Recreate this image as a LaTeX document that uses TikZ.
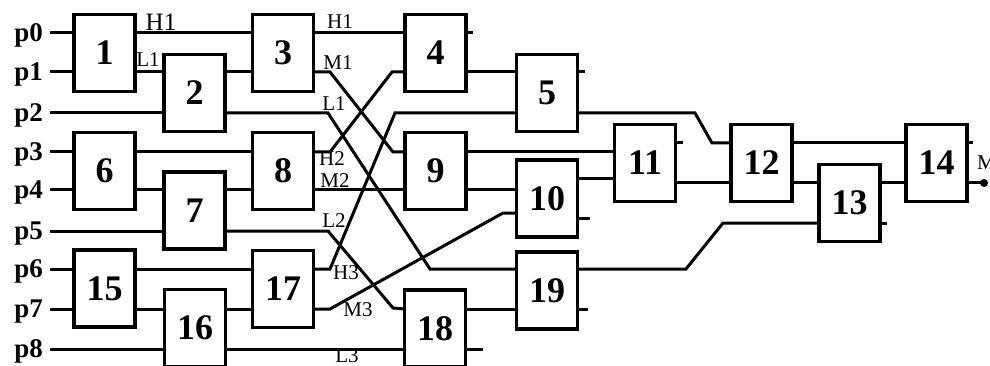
\documentclass[tikz,border=0pt]{standalone}
\usepackage{fontspec}
\setmainfont{Liberation Serif}
\begin{document}
\begin{tikzpicture}[
    x=1pt, y=-1pt,
    gate/.style={draw, line width=3.5pt, minimum width=61pt, minimum height=77pt,
        inner sep=0pt, outer sep=0pt, font=\fontsize{36}{36}\selectfont\bfseries},
    pin/.style={anchor=east, inner xsep=7pt, inner ysep=0pt, text depth=0pt,
        font=\fontsize{27}{27}\selectfont\bfseries},
    wire/.style={draw, line width=3pt},
    tag/.style={inner sep=0pt, font=\fontsize{21}{21}\selectfont}
]
\useasboundingbox (0,0) rectangle (990,366);

% inputs
\node [pin] (p0) at (50,33) {p0};
\node [pin] (p1) at (50,72) {p1};
\node [pin] (p2) at (50,113) {p2};
\node [pin] (p3) at (50,152) {p3};
\node [pin] (p4) at (50,190) {p4};
\node [pin] (p5) at (50,231) {p5};
\node [pin] (p6) at (50,269) {p6};
\node [pin] (p7) at (50,309) {p7};
\node [pin] (p8) at (50,349) {p8};

% comparators
\node [gate] (b1) at (104.5,53) {1};
\node [gate] (b2) at (194.5,93) {2};
\node [gate] (b6) at (104.5,171) {6};
\node [gate] (b7) at (194.5,210.5) {7};
\node [gate] (b15) at (104.5,288.5) {15};
\node [gate] (b16) at (195,328) {16};
\node [gate] (b3) at (283,53) {3};
\node [gate] (b8) at (283,171) {8};
\node [gate] (b17) at (283,289) {17};
\node [gate] (b4) at (435.5,53) {4};
\node [gate] (b9) at (435.5,171) {9};
\node [gate] (b18) at (435,328.5) {18};
\node [gate] (b5) at (547,93) {5};
\node [gate] (b10) at (547,198.5) {10};
\node [gate] (b19) at (547,290.5) {19};
\node [gate] (b11) at (645,163) {11};
\node [gate] (b12) at (761.5,163) {12};
\node [gate] (b13) at (849.5,203) {13};
\node [gate] (b14) at (936.5,163) {14};
\coordinate (out) at (984,183);

% input wires
\draw [wire] (p0) -- (b1.west |- p0);
\draw [wire] (p1) -- (b1.west |- p1);
\draw [wire] (p2) -- (b2.west |- p2);
\draw [wire] (p3) -- (b6.west |- p3);
\draw [wire] (p4) -- (b6.west |- p4);
\draw [wire] (p5) -- (b7.west |- p5);
\draw [wire] (p6) -- (b15.west |- p6);
\draw [wire] (p7) -- (b15.west |- p7);
\draw [wire] (p8) -- (b16.west |- p8);

% first columns
\draw [wire] (b1.east |- p0) -- (b3.west |- p0);
\draw [wire] (b1.east |- p1) -- (b2.west |- p1);
\draw [wire] (b2.east |- p1) -- (b3.west |- p1);
\draw [wire] (b6.east |- p3) -- (b8.west |- p3);
\draw [wire] (b6.east |- p4) -- (b7.west |- p4);
\draw [wire] (b7.east |- p4) -- (b8.west |- p4);
\draw [wire] (b15.east |- p6) -- (b17.west |- p6);
\draw [wire] (b15.east |- p7) -- (b16.west |- p7);
\draw [wire] (b16.east |- p7) -- (b17.west |- p7);

% crossing network
\draw [wire] (b3.east |- p0) -- (b4.west |- p0);
\draw [wire] (b3.east |- p1) -- (330,72) -- (393,152) -- (b9.west |- p3);
\draw [wire] (b2.east |- p2) -- (328,113) -- (430,269) -- (b19.west |- p6);
\draw [wire] (b8.east |- p3) -- (330,152) -- (392,72) -- (b4.west |- p1);
\draw [wire] (b8.east |- p4) -- (b9.west |- p4);
\draw [wire] (b7.east |- p5) -- (328,231) -- (393,308) -- (b18.west |- p7);
\draw [wire] (b17.east |- p6) -- (330,269) -- (395,113) -- (b5.west |- p2);
\draw [wire] (b17.east |- p7) -- (330,309) -- (503,213) -- ([yshift=-14.5pt]b10.west);
\draw [wire] (b16.east |- p8) -- (b18.west |- p8);

% later columns
\draw [wire] (b4.east |- p0) -- ([xshift=7pt]b4.east |- p0);
\draw [wire] (b4.east |- p1) -- (b5.west |- p1);
\draw [wire] (b9.east |- p3) -- (b11.west |- p3);
\draw [wire] (b9.east |- p4) -- (b10.west |- p4);
\draw [wire] (b18.east |- p7) -- (b19.west |- p7);
\draw [wire] (b18.east |- p8) -- ([xshift=17pt]b18.east |- p8);
\draw [wire] (b5.east |- p1) -- ([xshift=7pt]b5.east |- p1);
\draw [wire] (b5.east |- p2) -- (695,113) -- (712,143) -- ([yshift=20pt]b12.west);
\draw [wire] ([yshift=19.5pt]b10.east) -- ([yshift=19.5pt]b10.east -| b11.west);
\draw [wire] ([yshift=-19.5pt]b10.east) -- ([xshift=12pt,yshift=-19.5pt]b10.east);
\draw [wire] (b19.east |- p6) -- (686,269) -- (723,223) -- ([yshift=-20pt]b13.west);
\draw [wire] (b19.east |- p7) -- ([xshift=10pt]b19.east |- p7);
\draw [wire] ([yshift=20pt]b11.east) -- ([xshift=7pt,yshift=20pt]b11.east);
\draw [wire] ([yshift=-20pt]b11.east) -- ([yshift=-20pt]b12.west);
\draw [wire] ([yshift=20pt]b12.east) -- ([yshift=20pt]b14.west);
\draw [wire] ([yshift=-20pt]b12.east) -- ([yshift=20pt]b13.west);
\draw [wire] ([yshift=20pt]b13.east) -- ([yshift=-20pt]b14.west);
\draw [wire] ([yshift=-20pt]b13.east) -- ([xshift=7pt,yshift=-20pt]b13.east);
\draw [wire] ([yshift=20pt]b14.east) -- ([xshift=6pt,yshift=20pt]b14.east);
\draw [wire] ([yshift=-20pt]b14.east) -- (out);
\fill (out) circle (4pt);

% labels
\node [tag, font=\fontsize{25}{25}\selectfont] (tH1a) at (161,22) {H1};
\node [tag] (tL1a) at (148,60) {L1};
\node [tag] (tH1b) at (340,22) {H1};
\node [tag] (tM1) at (338,63) {M1};
\node [tag] (tL1b) at (334,104) {L1};
\node [tag] (tH2) at (332,159) {H2};
\node [tag] (tM2) at (335,181) {M2};
\node [tag] (tL2) at (334,221) {L2};
\node [tag] (tH3) at (346,273) {H3};
\node [tag] (tM3) at (358,310) {M3};
\node [tag] (tL3) at (347,356) {L3};
\node [tag, anchor=west] (tM) at (977,163) {M};
\end{tikzpicture}
\end{document}
